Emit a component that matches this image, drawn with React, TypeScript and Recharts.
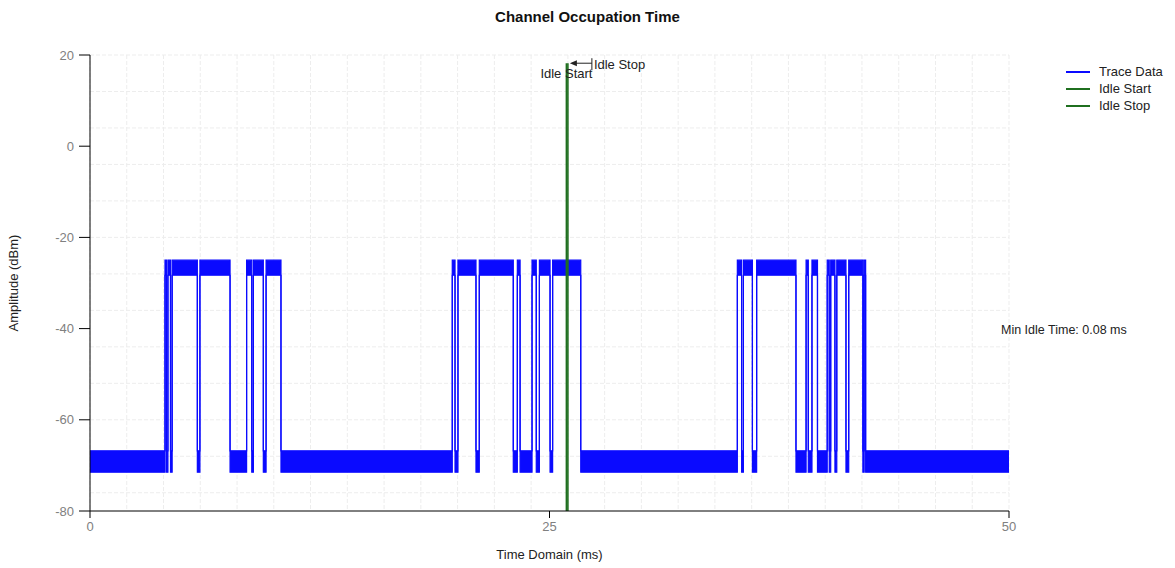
import {
  Area,
  CartesianGrid,
  ComposedChart,
  ReferenceDot,
  ReferenceLine,
  XAxis,
  YAxis,
} from "recharts";

// axes
const TIME_DOMAIN: [number, number] = [0, 50];
const AMP_DOMAIN: [number, number] = [-80, 20];
const X_TICKS = [0, 25, 50];
const Y_TICKS = [-80, -60, -40, -20, 0, 20];
const GRID_X = [0, 2, 4, 6, 8, 10, 12, 14, 16, 18, 20, 22, 24, 26, 28, 30, 32, 34, 36, 38, 40, 42, 44, 46, 48, 50];
const GRID_Y = [-80, -76, -72, -68, -64, -60, -56, -52, -48, -44, -40, -36, -32, -28, -24, -20, -16, -12, -8, -4, 0, 4, 8, 12, 16, 20];

// trace levels (noise band low / high, dBm)
const OFF_BAND: [number, number] = [-71.5, -66.8];
const ON_BAND: [number, number] = [-28.3, -25];

// transmission bursts [start ms, stop ms]
const BURSTS: [number, number][] = [
  [4.08, 4.16],
  [4.24, 4.38],
  [4.47, 5.84],
  [5.98, 7.62],
  [8.52, 8.8],
  [8.89, 9.43],
  [9.58, 10.39],
  [19.71, 19.86],
  [20.02, 21.0],
  [21.18, 23.03],
  [23.25, 23.4],
  [24.05, 24.28],
  [24.45, 25.03],
  [25.17, 26.7],
  [35.22, 35.45],
  [35.55, 36.04],
  [36.27, 38.41],
  [38.96, 39.08],
  [39.28, 39.58],
  [40.11, 40.22],
  [40.3, 40.53],
  [40.63, 41.13],
  [41.28, 42.05],
  [42.12, 42.2],
];

const IDLE_START = 25.92;
const IDLE_STOP = 26.0;
const IDLE_MARK_TOP = 18.2;
const MIN_IDLE_MS = 0.08;

const SERIES = [
  { name: "Trace Data", color: "#0a0aff" },
  { name: "Idle Start", color: "#1f6f1f" },
  { name: "Idle Stop", color: "#1f6f1f" },
];

const FONT = '"Liberation Sans", Arial, sans-serif';
const TRACE = SERIES[0].color;
const IDLE = SERIES[1].color;

type TracePoint = { t: number; band: [number, number] };

function buildTrace(): TracePoint[] {
  const pts: TracePoint[] = [{ t: TIME_DOMAIN[0], band: OFF_BAND }];
  for (const [s, e] of BURSTS) {
    pts.push(
      { t: s, band: OFF_BAND },
      { t: s, band: ON_BAND },
      { t: e, band: ON_BAND },
      { t: e, band: OFF_BAND },
    );
  }
  pts.push({ t: TIME_DOMAIN[1], band: OFF_BAND });
  return pts;
}

const trace = buildTrace();

function IdleStopMark({ cx, cy }: { cx: number; cy: number }) {
  return (
    <g>
      <line x1={cx + 4} y1={cy} x2={cx + 24} y2={cy} stroke="#222" strokeWidth={1} />
      <polygon
        points={`${cx + 2},${cy} ${cx + 9},${cy - 3} ${cx + 9},${cy + 3}`}
        fill="#222"
      />
      <line x1={cx + 24} y1={cy - 5} x2={cx + 24} y2={cy + 7} stroke="#222" strokeWidth={1} />
      <text x={cx + 26} y={cy + 5.5} fontSize={13} fontFamily={FONT} fill="#222">
        Idle Stop
      </text>
    </g>
  );
}

function IdleStartMark({ cx, cy }: { cx: number; cy: number }) {
  return (
    <text x={cx} y={cy + 15} textAnchor="middle" fontSize={13} fontFamily={FONT} fill="#222">
      Idle Start
    </text>
  );
}

function MinIdleLabel({ cx, cy }: { cx: number; cy: number }) {
  return (
    <text x={cx - 8} y={cy + 5} fontSize={12.5} fontFamily={FONT} fill="#222">
      {`Min Idle Time: ${MIN_IDLE_MS.toFixed(2)} ms`}
    </text>
  );
}

export default function App() {
  return (
    <div
      style={{
        position: "absolute",
        left: 0,
        top: 0,
        width: 1175,
        height: 568,
        background: "#fff",
        fontFamily: FONT,
      }}
    >
      <div
        style={{
          position: "absolute",
          top: 8,
          width: "100%",
          textAlign: "center",
          fontSize: 15,
          fontWeight: "bold",
          color: "#111",
        }}
      >
        Channel Occupation Time
      </div>

      <ComposedChart
        width={1175}
        height={568}
        data={trace}
        margin={{ top: 55, right: 166, bottom: 0, left: 0 }}
      >
        <CartesianGrid
          stroke="#ededed"
          strokeDasharray="4 2"
          verticalValues={GRID_X}
          horizontalValues={GRID_Y}
        />
        <XAxis
          type="number"
          dataKey="t"
          domain={TIME_DOMAIN}
          ticks={X_TICKS}
          height={57}
          tickSize={7}
          tickMargin={4}
          axisLine={{ stroke: "#000" }}
          tickLine={{ stroke: "#000" }}
          tick={{ fill: "#808080", fontSize: 13, fontFamily: FONT }}
          label={{
            content: (p: any) => {
              const vb = p.viewBox;
              return (
                <text
                  x={vb.x + vb.width / 2}
                  y={vb.y + vb.height - 9}
                  textAnchor="middle"
                  fontSize={13}
                  fontFamily={FONT}
                  fill="#222"
                >
                  Time Domain (ms)
                </text>
              );
            },
          }}
        />
        <YAxis
          type="number"
          domain={AMP_DOMAIN}
          ticks={Y_TICKS}
          width={90}
          tickSize={11}
          tickMargin={5}
          axisLine={{ stroke: "#000" }}
          tickLine={{ stroke: "#000" }}
          tick={{ fill: "#808080", fontSize: 13, fontFamily: FONT }}
          label={{
            content: (p: any) => {
              const vb = p.viewBox;
              const x = vb.x + 18;
              const y = vb.y + vb.height / 2;
              return (
                <text
                  x={x}
                  y={y}
                  transform={`rotate(-90 ${x} ${y})`}
                  textAnchor="middle"
                  fontSize={13}
                  fontFamily={FONT}
                  fill="#222"
                >
                  Amplitude (dBm)
                </text>
              );
            },
          }}
        />
        <Area
          type="linear"
          dataKey="band"
          stroke={TRACE}
          strokeWidth={1.2}
          fill={TRACE}
          fillOpacity={1}
          dot={false}
          activeDot={false}
          isAnimationActive={false}
        />
        <ReferenceLine
          segment={[
            { x: IDLE_START, y: AMP_DOMAIN[0] },
            { x: IDLE_START, y: IDLE_MARK_TOP },
          ]}
          stroke={IDLE}
          strokeWidth={1.6}
        />
        <ReferenceLine
          segment={[
            { x: IDLE_STOP, y: AMP_DOMAIN[0] },
            { x: IDLE_STOP, y: IDLE_MARK_TOP },
          ]}
          stroke={IDLE}
          strokeWidth={1.6}
        />
        <ReferenceDot
          x={IDLE_STOP}
          y={IDLE_MARK_TOP}
          r={0}
          ifOverflow="visible"
          shape={(p: any) => <IdleStopMark cx={p.cx} cy={p.cy} />}
        />
        <ReferenceDot
          x={IDLE_START}
          y={IDLE_MARK_TOP}
          r={0}
          ifOverflow="visible"
          shape={(p: any) => <IdleStartMark cx={p.cx} cy={p.cy} />}
        />
        <ReferenceDot
          x={TIME_DOMAIN[1]}
          y={-40}
          r={0}
          ifOverflow="visible"
          shape={(p: any) => <MinIdleLabel cx={p.cx} cy={p.cy} />}
        />
      </ComposedChart>

      <div style={{ position: "absolute", left: 1066, top: 63 }}>
        {SERIES.map((s) => (
          <div
            key={s.name}
            style={{ display: "flex", alignItems: "center", height: 17, fontSize: 13, color: "#222" }}
          >
            <span
              style={{ display: "inline-block", width: 24, height: 2, background: s.color, marginRight: 9 }}
            />
            {s.name}
          </div>
        ))}
      </div>
    </div>
  );
}
